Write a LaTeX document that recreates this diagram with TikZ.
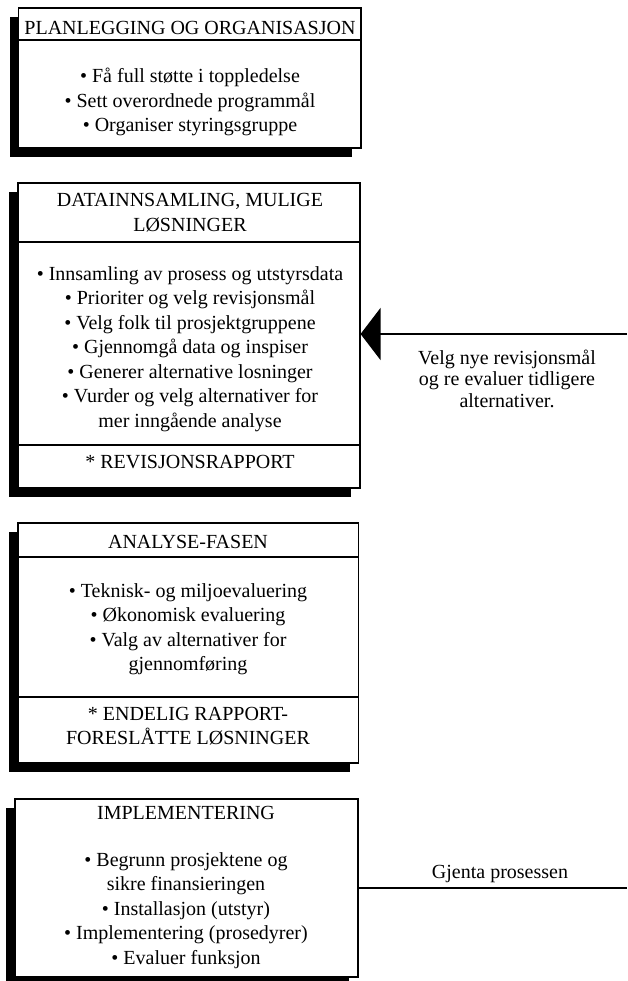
\documentclass[tikz,border=0pt]{standalone}
\usepackage{fontspec}
\setmainfont{Liberation Serif}
\usepackage{tikz}
\usetikzlibrary{arrows.meta,shadows}

\begin{document}
\begin{tikzpicture}[x=1pt,y=-1pt,
  phase/.style={rectangle,draw=black,fill=white,line width=1.1pt,inner sep=0pt,drop shadow={shadow xshift=-9pt,shadow yshift=-9pt,fill=black,opacity=1}},
  divider/.style={draw=black,line width=1.1pt},
  txt/.style={font=\fontsize{20}{24.5}\selectfont,align=center,inner sep=0pt,anchor=base},
  sidetxt/.style={txt,font=\fontsize{20}{21.5}\selectfont},
  link/.style={draw=black,line width=1.6pt}]
\useasboundingbox (0,0) rectangle (627,981);
\node[phase,minimum width=342.5pt,minimum height=140pt] (plan) at (189.75,78) {};
\node[phase,minimum width=342pt,minimum height=305pt] (data) at (189,335.5) {};
\node[phase,minimum width=340.5pt,minimum height=240pt] (analysis) at (188.25,643) {};
\node[phase,minimum width=343pt,minimum height=178pt] (impl) at (186.5,888) {};
\draw[divider] (plan.west |- 0,40) -- (plan.east |- 0,40);
\draw[divider] (data.west |- 0,242) -- (data.east |- 0,242);
\draw[divider] (data.west |- 0,445) -- (data.east |- 0,445);
\draw[divider] (analysis.west |- 0,557) -- (analysis.east |- 0,557);
\draw[divider] (analysis.west |- 0,697) -- (analysis.east |- 0,697);
\node[txt] (planhead) at (190,35) {PLANLEGGING OG ORGANISASJON};
\node[txt] (planbody) at (190,132) {• Få full støtte i toppledelse\\• Sett overordnede programmål\\• Organiser styringsgruppe};
\node[txt] (datahead) at (190,231.5) {DATAINNSAMLING, MULIGE\\LØSNINGER};
\node[txt] (databody) at (190,427) {• Innsamling av prosess og utstyrsdata\\• Prioriter og velg revisjonsmål\\• Velg folk til prosjektgruppene\\• Gjennomgå data og inspiser\\• Generer alternative losninger\\• Vurder og velg alternativer for\\mer inngående analyse};
\node[txt] (datafoot) at (190,468) {* REVISJONSRAPPORT};
\node[txt] (analysishead) at (188,548) {ANALYSE-FASEN};
\node[txt] (analysisbody) at (188,670.5) {• Teknisk- og miljoevaluering\\• Økonomisk evaluering\\• Valg av alternativer for\\gjennomføring};
\node[txt] (analysisfoot) at (188,744.5) {* ENDELIG RAPPORT-\\FORESLÅTTE LØSNINGER};
\node[txt] (implhead) at (186,819) {IMPLEMENTERING};
\node[txt] (implbody) at (186,964) {• Begrunn prosjektene og\\sikre finansieringen\\• Installasjon (utstyr)\\• Implementering (prosedyrer)\\• Evaluer funksjon};
\node[sidetxt] (revisit) at (507,407) {Velg nye revisjonsmål\\og re evaluer tidligere\\alternativer.};
\node[txt] (repeat) at (500,878) {Gjenta prosessen};
\coordinate (feedin) at (627,334);
\coordinate (repeatout) at (627,888);
\draw[link,-{Triangle[length=20pt,width=52pt]}] (feedin) -- (data.east |- feedin);
\draw[link] (impl.east |- repeatout) -- (repeatout);
\end{tikzpicture}
\end{document}
